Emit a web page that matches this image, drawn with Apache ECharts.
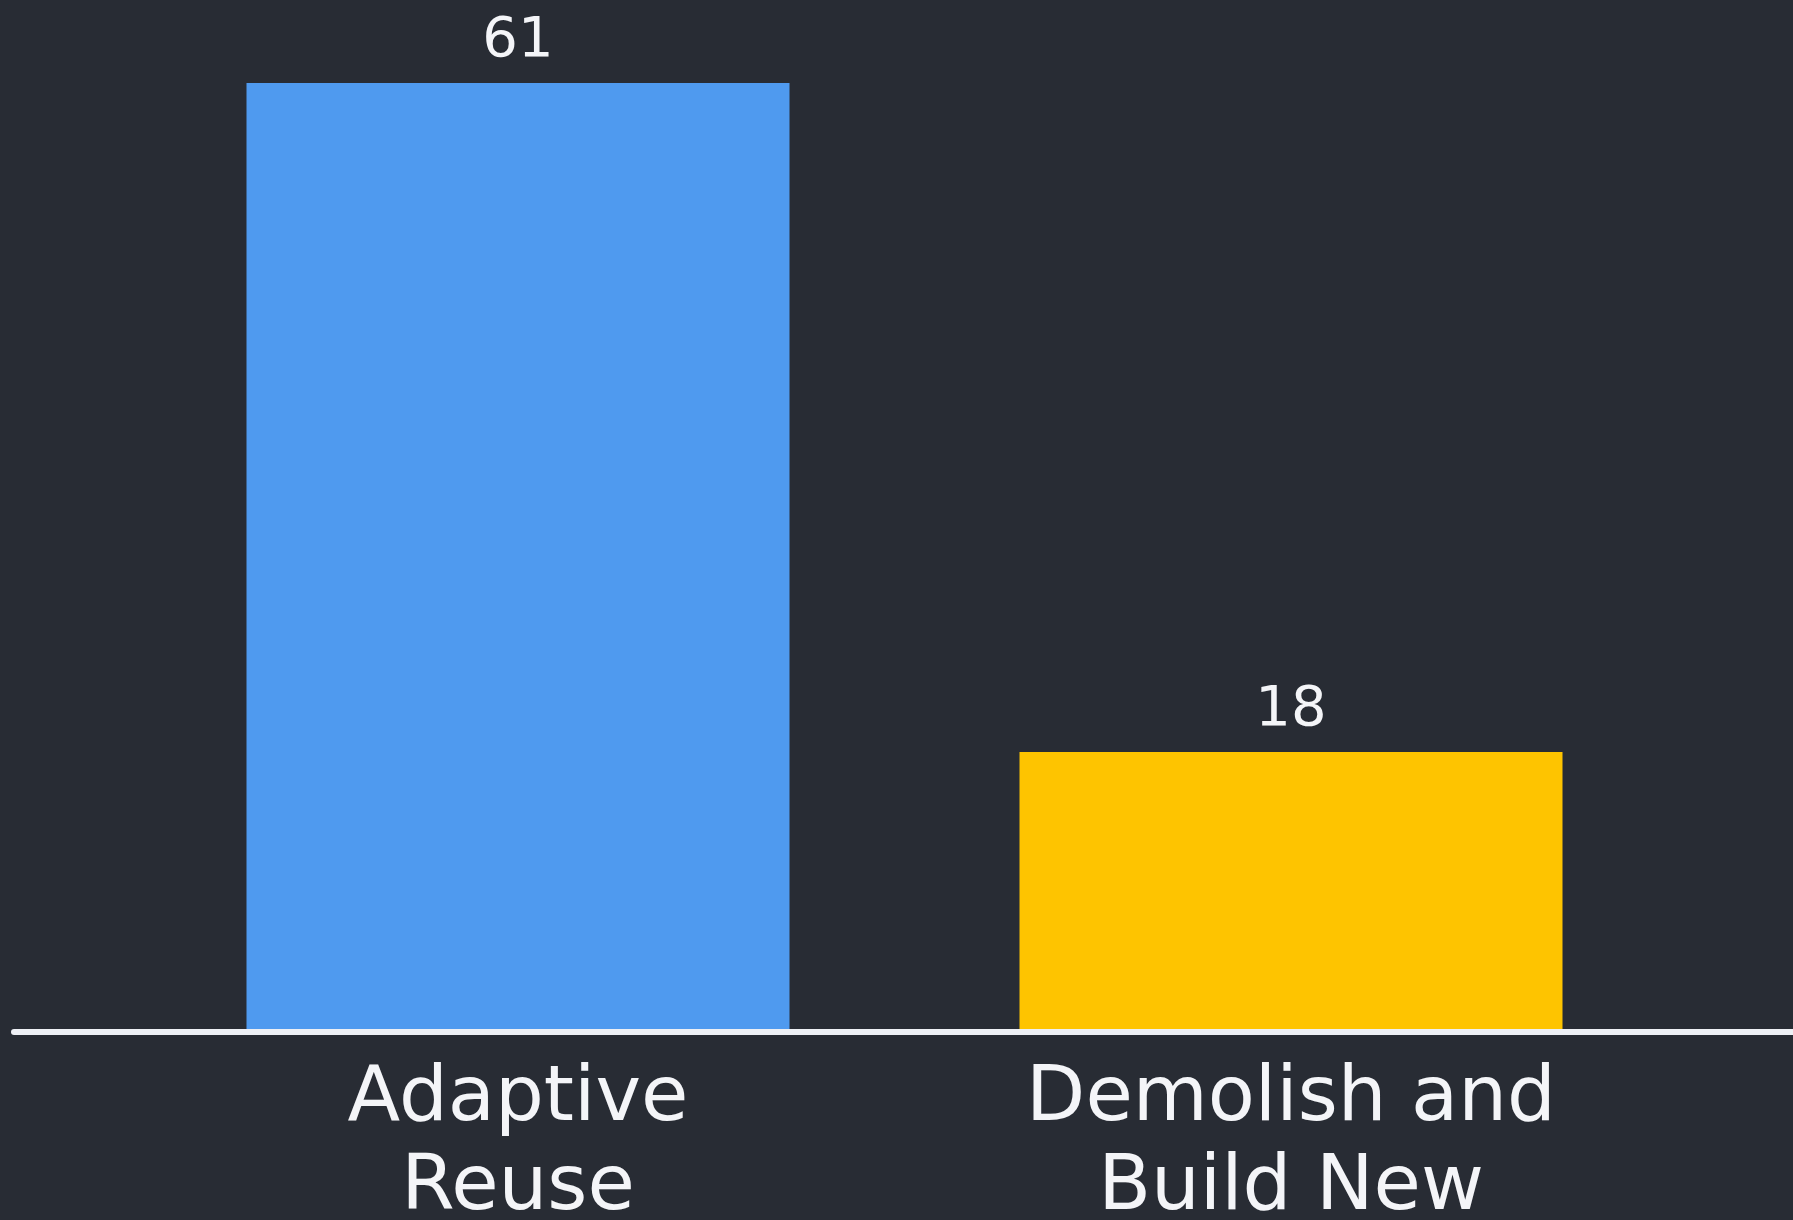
<!DOCTYPE html>
<html>
<head>
<meta charset="utf-8">
<script src="https://cdn.jsdelivr.net/npm/echarts@6/dist/echarts.min.js"></script>
<style>
  html, body { margin: 0; padding: 0; background: #282c34; }
  #chart { width: 1793px; height: 1220px; }
</style>
</head>
<body>
<div id="chart"></div>
<script>
const categories = ['Adaptive\nReuse', 'Demolish and\nBuild New'];
const values = [61, 18];
const barColors = ['#4f9aef', '#fec400'];

const chart = echarts.init(document.getElementById('chart'), null, { renderer: 'canvas' });
const textColor = '#f4f5f8';
const fontFamily = '"DejaVu Sans", sans-serif';

chart.setOption({
  backgroundColor: '#282c34',
  animation: false,
  grid: [
    { left: 131.5, right: 115.5, top: 83, bottom: 188, containLabel: false, outerBoundsMode: 'none' },
    { left: 14, right: 0, top: 83, bottom: 188, containLabel: false, outerBoundsMode: 'none' }
  ],
  xAxis: [
    {
      type: 'category',
      gridIndex: 0,
      data: categories,
      axisLine: { show: false },
      axisTick: { show: false },
      axisLabel: {
        color: textColor,
        fontFamily: fontFamily,
        fontSize: 77,
        lineHeight: 89,
        margin: 23,
        interval: 0
      }
    },
    {
      type: 'value',
      gridIndex: 1,
      min: 0,
      max: 1,
      z: 5,
      axisLine: { show: true, lineStyle: { color: '#eef0f5', width: 6 } },
      axisTick: { show: false },
      axisLabel: { show: false },
      splitLine: { show: false }
    }
  ],
  yAxis: [
    { type: 'value', gridIndex: 0, min: 0, max: 'dataMax', show: false, splitLine: { show: false } },
    { type: 'value', gridIndex: 1, min: 0, max: 1, show: false, splitLine: { show: false } }
  ],
  series: [
    {
      type: 'bar',
      xAxisIndex: 0,
      yAxisIndex: 0,
      barWidth: 543,
      data: values.map((v, i) => ({ value: v, itemStyle: { color: barColors[i] } })),
      label: {
        show: true,
        position: 'top',
        distance: 14,
        color: textColor,
        fontFamily: fontFamily,
        fontSize: 56
      }
    }
  ]
});
</script>
</body>
</html>
